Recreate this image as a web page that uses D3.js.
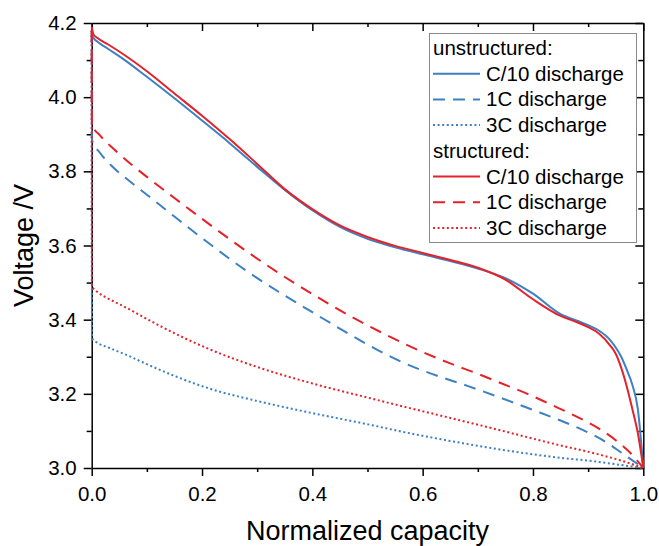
<!DOCTYPE html>
<html><head><meta charset="utf-8">
<script src="https://cdn.jsdelivr.net/npm/d3@7"></script>
<style>body{margin:0;background:#fff}svg{display:block}text{font-family:"Liberation Sans",Arial,sans-serif;fill:#000}</style>
</head><body><svg id="c" width="659" height="546"></svg>
<script>
const xTicks = [0.0, 0.2, 0.4, 0.6, 0.8, 1.0];
const yTicks = [3.0, 3.2, 3.4, 3.6, 3.8, 4.0, 4.2];

const xC10u = [0, 0.003, 0.01, 0.03, 0.06, 0.1, 0.15, 0.2, 0.25, 0.3, 0.35, 0.4, 0.45, 0.5, 0.55, 0.6, 0.65, 0.7, 0.75, 0.8, 0.85, 0.88, 0.9, 0.92, 0.94, 0.95, 0.96, 0.97, 0.98, 0.99, 1.0];
const vC10u = [4.175, 4.16, 4.15, 4.13, 4.10, 4.055, 3.997, 3.937, 3.876, 3.812, 3.75, 3.695, 3.65, 3.618, 3.595, 3.576, 3.558, 3.538, 3.512, 3.47, 3.415, 3.397, 3.385, 3.37, 3.345, 3.325, 3.30, 3.265, 3.225, 3.16, 3.0];
const xC10s = [0, 0.003, 0.01, 0.03, 0.06, 0.1, 0.15, 0.2, 0.25, 0.3, 0.35, 0.4, 0.45, 0.5, 0.55, 0.6, 0.65, 0.7, 0.75, 0.8, 0.85, 0.88, 0.9, 0.92, 0.94, 0.95, 0.96, 0.97, 0.98, 0.99, 1.0];
const vC10s = [4.19, 4.17, 4.16, 4.142, 4.113, 4.07, 4.01, 3.95, 3.887, 3.82, 3.752, 3.698, 3.654, 3.623, 3.599, 3.58, 3.561, 3.54, 3.508, 3.455, 3.41, 3.393, 3.38, 3.362, 3.33, 3.308, 3.27, 3.22, 3.16, 3.095, 3.0];

const x1Cu = [0, 0.0005, 0.015, 0.036, 0.07, 0.1, 0.15, 0.2, 0.287, 0.35, 0.408, 0.46, 0.511, 0.565, 0.62, 0.68, 0.74, 0.801, 0.85, 0.891, 0.93, 0.952, 0.975, 1.0];
const v1Cu = [4.18, 3.885, 3.85, 3.815, 3.772, 3.737, 3.678, 3.62, 3.525, 3.465, 3.413, 3.367, 3.324, 3.284, 3.252, 3.222, 3.19, 3.156, 3.128, 3.102, 3.072, 3.05, 3.026, 3.0];
const x1Cs = [0, 0.0005, 0.015, 0.04, 0.0725, 0.1, 0.15, 0.2, 0.287, 0.35, 0.408, 0.468, 0.53, 0.589, 0.65, 0.7, 0.74, 0.79, 0.831, 0.88, 0.921, 0.95, 0.975, 1.0];
const v1Cs = [4.18, 3.925, 3.897, 3.86, 3.818, 3.785, 3.728, 3.672, 3.578, 3.515, 3.462, 3.41, 3.362, 3.32, 3.282, 3.254, 3.23, 3.2, 3.172, 3.138, 3.105, 3.075, 3.043, 3.0];

const x3Cu = [0, 0.0005, 0.01, 0.03, 0.063, 0.1, 0.154, 0.214, 0.305, 0.4, 0.5, 0.559, 0.65, 0.74, 0.83, 0.921, 0.96, 1.0];
const v3Cu = [4.18, 3.35, 3.338, 3.325, 3.305, 3.28, 3.246, 3.214, 3.179, 3.148, 3.118, 3.099, 3.073, 3.05, 3.031, 3.016, 3.008, 3.0];
const x3Cs = [0, 0.0005, 0.01, 0.03, 0.063, 0.1, 0.124, 0.214, 0.305, 0.4, 0.5, 0.559, 0.65, 0.74, 0.83, 0.921, 0.96, 1.0];
const v3Cs = [4.18, 3.49, 3.475, 3.457, 3.432, 3.402, 3.383, 3.32, 3.27, 3.228, 3.19, 3.168, 3.135, 3.102, 3.068, 3.036, 3.02, 3.0];

const legendGroups = ["unstructured:", "structured:"];
const legendLabels = ["C/10 discharge", "1C discharge", "3C discharge"];

const BLUE = "#3d80c3", RED = "#e3222a";
const series = [
  {x: xC10u, v: vC10u, color: BLUE, dash: null},
  {x: x1Cu, v: v1Cu, color: BLUE, dash: "12,8"},
  {x: x3Cu, v: v3Cu, color: BLUE, dash: "2,2.6"},
  {x: xC10s, v: vC10s, color: RED, dash: null},
  {x: x1Cs, v: v1Cs, color: RED, dash: "12,8"},
  {x: x3Cs, v: v3Cs, color: RED, dash: "2,2.6"}
];

const svg = d3.select("#c");
const L = 91.7, R = 643.3, T = 23, B = 468;
const x = d3.scaleLinear().domain([0, 1]).range([L, R]);
const y = d3.scaleLinear().domain([3.0, 4.2]).range([B, T]);
const xMinor = d3.range(0.1, 1.0, 0.2);
const yMinor = d3.range(3.1, 4.2, 0.2);

function axisStyle(g) {
  g.selectAll("path.domain").attr("stroke", "#000").attr("stroke-width", 1.5);
  g.selectAll("line").attr("stroke", "#000").attr("stroke-width", 1.5);
}
// bottom
const gb = svg.append("g").attr("transform", `translate(0,${B})`)
  .call(d3.axisBottom(x).tickValues(xTicks).tickFormat(d3.format(".1f")).tickSize(8).tickSizeOuter(0).tickPadding(10));
gb.selectAll("text").attr("font-size", 20.5).attr("dy", "0.71em");
axisStyle(gb);
const gbm = svg.append("g").attr("transform", `translate(0,${B})`)
  .call(d3.axisBottom(x).tickValues(xMinor).tickFormat("").tickSize(4).tickSizeOuter(0));
gbm.select("path.domain").remove(); axisStyle(gbm);
// top
const gt = svg.append("g").attr("transform", `translate(0,${T})`)
  .call(d3.axisBottom(x).tickValues(xTicks).tickFormat("").tickSize(8).tickSizeOuter(0));
axisStyle(gt);
const gtm = svg.append("g").attr("transform", `translate(0,${T})`)
  .call(d3.axisBottom(x).tickValues(xMinor).tickFormat("").tickSize(4).tickSizeOuter(0));
gtm.select("path.domain").remove(); axisStyle(gtm);
// left
const gl = svg.append("g").attr("transform", `translate(${L},0)`)
  .call(d3.axisLeft(y).tickValues(yTicks).tickFormat(d3.format(".1f")).tickSize(8).tickSizeOuter(0).tickPadding(7));
gl.selectAll("text").attr("font-size", 20.5);
axisStyle(gl);
const glm = svg.append("g").attr("transform", `translate(${L},0)`)
  .call(d3.axisLeft(y).tickValues(yMinor).tickFormat("").tickSize(5).tickSizeOuter(0));
glm.select("path.domain").remove(); axisStyle(glm);
// right
const gr = svg.append("g").attr("transform", `translate(${R},0)`)
  .call(d3.axisLeft(y).tickValues(yTicks).tickFormat("").tickSize(8).tickSizeOuter(0));
axisStyle(gr);
const grm = svg.append("g").attr("transform", `translate(${R},0)`)
  .call(d3.axisLeft(y).tickValues(yMinor).tickFormat("").tickSize(5).tickSizeOuter(0));
grm.select("path.domain").remove(); axisStyle(grm);
gt.selectAll(".tick line").attr("y2", 8); gtm.selectAll(".tick line").attr("y2", 4);
gr.selectAll(".tick line").attr("x2", -8); grm.selectAll(".tick line").attr("x2", -5);
svg.selectAll(".domain").attr("fill", "none");

// axis titles
svg.append("text").attr("x", (L + R) / 2).attr("y", 540).attr("text-anchor", "middle")
  .attr("font-size", 27).text("Normalized capacity");
svg.append("text").attr("transform", `translate(33,${(T + B) / 2}) rotate(-90)`).attr("text-anchor", "middle")
  .attr("font-size", 27).text("Voltage /V");

// curves
const line = d3.line().x(d => x(d[0])).y(d => y(d[1])).curve(d3.curveMonotoneX);
series.forEach(s => {
  const pts = s.x.map((xv, i) => [xv, s.v[i]]);
  svg.append("path").attr("d", line(pts)).attr("fill", "none")
    .attr("stroke", s.color).attr("stroke-width", 2)
    .attr("stroke-dasharray", s.dash);
});

// legend
const lg = svg.append("g");
lg.append("rect").attr("x", 429.5).attr("y", 33.5).attr("width", 207).attr("height", 209)
  .attr("fill", "#fff").attr("stroke", "#8a8a8a").attr("stroke-width", 1);
const rowH = 25.7, row0 = 48;
legendGroups.forEach((gname, gi) => {
  const base = row0 + gi * 4 * rowH;
  lg.append("text").attr("x", 433).attr("y", base + 7).attr("font-size", 20.5).text(gname);
  legendLabels.forEach((lab, li) => {
    const s = series[gi * 3 + li];
    const cy = base + (li + 1) * rowH;
    lg.append("line").attr("x1", 433).attr("x2", 480).attr("y1", cy).attr("y2", cy)
      .attr("stroke", s.color).attr("stroke-width", 2).attr("stroke-dasharray", s.dash);
    lg.append("text").attr("x", 486).attr("y", cy + 7).attr("font-size", 20.5).text(lab);
  });
});
</script></body></html>
